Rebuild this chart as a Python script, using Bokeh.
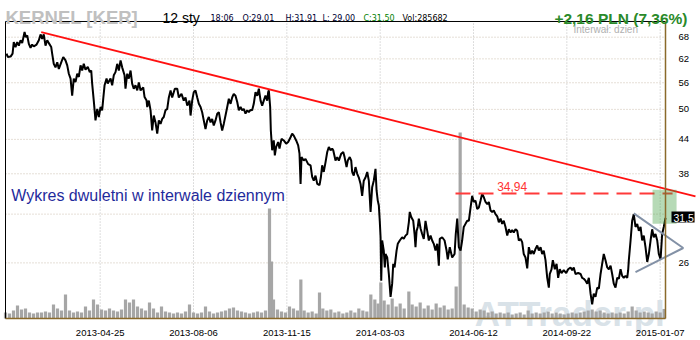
from bokeh.plotting import figure
from bokeh.models import Range1d, LinearScale, FixedTicker, Label, PrintfTickFormatter
from bokeh.embed import file_html
from bokeh.resources import INLINE
from bokeh.core.properties import value

# ---------------- data (trading-day index, prices in PLN) ----------------
day = [0.8,1.7,3.8,5.3,6.2,7.5,8.8,10.0,11.3,12.5,14.3,15.2,16.3,17.5,18.8,20.0,21.2,23.3,25.0,26.3,
       27.5,28.7,30.0,31.3,32.5,34.3,35.0,36.2,37.5,38.8,40.0,41.8,43.3,45.0,46.3,47.5,48.8,50.0,51.2,52.5,
       53.8,55.0,56.3,57.5,58.7,60.0,61.7,63.2,64.3,65.0,66.2,67.5,68.8,70.0,71.3,72.5,73.3,74.3,75.8,76.7,
       78.8,80.0,81.2,82.5,83.8,85.0,86.3,87.5,89.3,90.0,91.3,92.5,93.8,95.0,96.2,97.5,98.8,100.0,101.3,103.3,
       104.3,105.8,106.3,107.5,108.8,110.0,111.2,112.5,113.8,115.0,116.3,117.5,118.7,120.0,121.3,122.5,123.8,125.0,127.0,128.8,
       130.0,132.0,133.7,135.0,136.3,138.0,138.8,140.0,141.2,142.5,143.8,145.0,146.3,147.5,148.7,150.0,151.3,152.5,153.8,155.0,
       156.2,157.5,158.8,160.0,161.3,162.5,163.7,165.0,166.3,167.5,168.8,170.0,171.2,172.5,173.8,175.0,176.3,177.5,178.7,180.0,
       181.3,182.5,183.8,185.0,186.2,187.5,188.8,190.0,191.3,192.5,193.7,195.0,196.3,197.0,197.5,198.5,199.0,200.0,201.2,202.0,
       203.0,204.5,205.5,207.0,208.7,210.5,212.0,213.8,215.0,216.2,218.0,219.5,220.5,221.3,222.0,223.7,225.0,227.0,228.8,230.0,
       231.2,232.5,233.8,235.5,236.5,237.5,238.7,240.0,241.3,242.5,243.8,245.0,245.8,247.5,248.8,250.0,251.8,253.3,254.3,255.8,
       256.7,258.2,259.3,260.0,261.2,262.5,263.8,265.0,266.3,267.5,268.7,270.0,271.3,272.5,273.8,275.0,276.2,277.5,278.3,279.2,
       280.0,280.7,281.3,281.8,282.5,283.7,284.5,285.0,286.3,287.5,288.8,290.0,290.8,291.8,293.3,294.2,295.7,297.5,298.7,300.0,
       301.3,302.5,303.2,304.3,305.8,306.8,307.5,308.3,309.2,310.0,311.3,312.5,313.7,315.0,316.3,317.5,318.8,320.0,321.2,322.5,
       323.8,325.0,325.7,327.5,329.3,330.8,331.7,333.2,335.0,336.8,337.7,338.8,340.0,341.3,342.5,343.7,345.0,346.3,347.5,348.8,
       350.0,351.2,352.5,353.8,355.0,356.3,357.5,358.7,360.0,361.3,362.5,363.8,365.0,366.2,367.5,368.8,370.0,371.3,372.5,373.7,
       375.0,376.3,377.5,378.8,380.0,381.2,382.5,383.8,385.0,386.3,387.5,388.7,390.0,391.3,392.5,393.8,395.0,396.2,397.5,398.8,
       400.0,401.3,402.5,403.7,405.0,406.3,407.5,408.2,409.5,410.5,412.0,413.3,414.5,415.7,417.0,418.7,420.5,422.0,423.8,425.0,
       426.2,427.5,429.5,431.3,432.5,433.7,435.0,436.3,437.5,438.8,440.0,441.2,442.5,443.8,445.0,446.3,447.5,448.7,450.0,451.3,
       452.5,453.8,455.0,456.2,457.5,458.8,460.0,461.3,462.5,463.7,465.0,466.3,467.0,467.5,468.8,470.0,471.2,472.5,473.8,475.0,
       476.3,477.5,478.7,480.0,481.3,482.5,483.8,485.0,486.2,487.5,488.8,490.0,491.3,492.5,493.7,495.0]

close = [63.4,62.5,62.6,63.4,66.6,65.2,66.6,65.6,67.1,66.3,69.5,68.0,68.5,66.1,65.0,65.9,65.4,65.9,67.1,68.8,
         67.5,68.8,65.6,67.1,66.3,65.2,63.4,60.7,59.8,61.1,59.4,61.1,62.5,61.6,60.3,58.2,57.0,53.0,57.0,56.2,
         58.2,57.4,60.3,59.0,60.7,59.2,59.9,58.6,59.0,55.8,51.9,47.7,50.1,48.4,50.5,49.8,52.3,55.4,57.0,55.8,
         57.0,55.4,57.8,58.6,60.7,59.0,61.6,59.8,57.8,54.6,58.2,57.0,59.0,55.8,54.6,55.4,54.2,56.1,54.2,54.9,
         52.7,51.9,50.5,51.9,49.8,45.7,48.7,47.3,45.1,47.7,47.0,48.0,48.4,49.8,50.1,52.6,54.2,52.6,54.6,54.6,
         52.6,53.4,51.9,52.6,50.8,51.9,48.7,51.9,53.8,54.2,52.6,51.2,50.5,49.4,47.7,46.0,47.7,48.4,47.3,48.0,
         46.7,47.7,49.1,49.4,47.3,45.7,47.0,48.7,50.5,52.3,51.2,52.6,53.4,53.0,51.6,49.8,50.5,49.8,50.1,49.1,
         49.8,49.4,49.9,49.8,51.2,53.8,53.0,54.6,51.9,50.8,51.9,53.0,51.9,53.8,54.2,50.5,45.7,42.0,43.8,41.1,
         42.6,43.5,42.3,44.1,43.8,43.2,43.5,44.4,45.1,44.7,43.8,42.9,41.4,36.4,40.8,40.2,40.5,39.6,39.4,37.5,
         36.9,37.7,36.4,36.2,37.4,39.4,38.3,39.9,41.7,42.6,42.0,42.3,42.0,40.2,40.8,40.2,41.4,41.7,40.8,39.1,
         40.2,40.8,40.2,38.3,37.7,39.1,38.0,37.4,36.4,34.6,36.9,37.4,38.3,36.9,32.3,35.9,36.9,38.8,35.4,33.9,
         33.2,31.1,29.0,24.1,28.6,27.4,25.5,27.0,26.6,24.8,22.5,23.8,25.9,25.5,27.4,28.2,28.6,29.0,28.8,29.2,
         29.4,30.9,32.3,31.6,31.1,29.4,27.8,29.8,30.3,31.4,30.1,29.4,28.8,31.1,29.8,28.6,29.2,28.6,28.2,27.4,
         28.2,25.7,28.8,29.0,28.6,27.4,26.4,27.8,26.6,27.0,29.4,31.4,27.8,27.4,28.6,30.3,30.7,31.1,31.1,32.9,
         34.6,33.7,33.9,32.7,32.9,33.9,34.9,34.4,33.7,33.4,33.7,32.5,32.3,32.5,32.0,31.7,30.9,31.4,30.7,31.1,
         30.3,29.2,30.0,29.6,29.9,29.6,30.0,29.8,28.6,28.8,28.4,27.0,26.6,25.4,27.8,27.0,27.4,27.0,27.6,28.0,
         27.4,27.8,27.0,27.4,26.3,24.4,23.4,24.8,25.3,26.3,25.3,25.9,24.4,25.3,24.9,25.2,24.9,25.3,25.5,25.2,
         25.5,24.8,24.9,24.8,24.4,24.3,24.1,23.8,24.4,22.8,21.8,22.8,22.5,23.4,23.3,24.8,25.9,27.0,26.3,25.5,
         25.3,25.7,24.8,23.8,23.4,24.4,24.3,25.3,24.6,24.4,24.6,24.4,25.2,26.3,28.6,31.1,32.0,30.3,30.7,29.8,
         30.3,28.6,29.2,27.8,26.1,27.0,28.6,30.0,29.0,29.4,28.6,27.0,26.4,29.4,30.3,31.5]

vol_day = [0,3,6,9,12,15,18,21,24,27,30,33,36,39,42,45,48,51,54,57,60,63,66,69,72,75,78,81,84,87,
           90,93,96,99,102,105,108,111,114,117,120,123,126,129,132,135,138,141,144,147,150,153,156,159,162,165,168,171,174,177,
           180,183,186,189,192,195,198,199.5,201,204,207,210,213,216,219,221.5,224,227,230,233,
           235.5,238,241,244,247,250,253,256,259,262,265,268,271,274,277,279.5,281.5,284,287,290,
           293,296,299,302.5,305,308,311,314,317,320,323,326,329,332,335,338,341,344,347,350,
           353,356,359,362,365,368,371,374,377,380,383,386,389,392,395,398,401,404,407,410,
           413,416,419,422,425,428,431,434,437,440,443,446,449,452,455,458,461,464,467,470,
           473,476,479,482,485,488,491,494]
vol_k = [180,150,240,390,270,300,180,150,180,180,210,180,420,300,240,720,240,180,210,180,
         360,240,570,420,270,240,300,240,210,270,570,480,570,360,300,240,480,300,180,360,
         210,180,150,180,150,210,420,180,150,180,360,210,150,180,210,240,300,330,240,210,
         180,150,180,210,180,240,3300,1710,570,270,210,180,360,300,240,1170,240,180,210,150,
         780,300,240,270,180,210,150,180,240,180,300,240,210,720,570,450,1080,540,420,600,
         360,450,300,810,420,360,480,300,390,270,450,330,390,270,300,960,5580,420,330,300,
         210,270,240,180,210,150,180,150,180,120,150,180,120,240,150,180,150,180,210,150,
         180,150,120,150,180,150,180,210,240,270,210,240,180,150,180,150,180,150,210,360,
         240,180,210,180,150,210,180,286]

tick_days = [71, 141, 211, 281, 351, 421, 491]
tick_labels = ["2013-04-25", "2013-08-06", "2013-11-15", "2014-03-03",
               "2014-06-12", "2014-09-22", "2015-01-07"]
price_ticks = [26, 32, 38, 44, 50, 56, 62, 68]
hidden_price_ticks = [32]

trend_day = [26.8, 517.5]
trend_price = [69.5, 34.5]
resistance = 34.94
resist_day = [337.5, 500.3]
tri_day = [471.2, 508.3, 472.5]
tri_price = [32.1, 27.7, 25.0]
box_day = (485.3, 503.3)
box_price = (30.7, 35.5)
last_price = 31.5

# ---------------- layout (positions in data units) ----------------
X_START, X_END = -3.75, 521.25
Y_START, Y_END = 18.68, 79.5
LEFT_DAY, AXIS_DAY = 0.0, 495.0
AXIS_PRICE, TOP_PRICE = 20.51, 72.7
BROWN = "#8a6a2a"

p = figure(width=700, height=340, x_range=Range1d(X_START, X_END),
           y_range=Range1d(Y_START, Y_END), y_axis_type="log",
           y_axis_location="right", x_axis_location="below",
           output_backend="svg", toolbar_location=None, min_border=0)
p.min_border_left = p.min_border_right = p.min_border_top = p.min_border_bottom = 0
p.outline_line_color = None
p.background_fill_color = "white"
p.border_fill_color = "white"
p.grid.visible = False

p.extra_y_ranges = {"vol": Range1d(-660, 9540)}
p.extra_y_scales = {"vol": LinearScale()}

# grid lines
p.segment(x0=tick_days, x1=tick_days, y0=[AXIS_PRICE] * len(tick_days), y1=[TOP_PRICE] * len(tick_days),
          line_color="#bdbdbd", line_width=1, line_dash="1 2")
p.segment(x0=[LEFT_DAY] * len(price_ticks), x1=[AXIS_DAY] * len(price_ticks), y0=price_ticks, y1=price_ticks,
          line_color="#cbbfae", line_width=1, line_dash="1 2")

# watermark
p.text(x=[352], y=[21.0], text=["ATTrader.pl"], text_font=value("Liberation Sans"),
       text_font_style="bold", text_font_size="35px", text_color="#d9e2e8", text_baseline="alphabetic")

# volume
p.vbar(x=vol_day, top=vol_k, bottom=0, width=2.4, y_range_name="vol",
       fill_color="#a6a6a6", line_color=None)

# frame lines
p.segment(x0=[LEFT_DAY], x1=[AXIS_DAY], y0=[TOP_PRICE], y1=[TOP_PRICE], line_color="black", line_width=1)
p.segment(x0=[LEFT_DAY], x1=[LEFT_DAY], y0=[AXIS_PRICE], y1=[TOP_PRICE], line_color="black", line_width=1)

# price
p.line(day, close, line_color="black", line_width=2.0)

# trend line, resistance, triangle
p.line(trend_day, trend_price, line_color="#ff1010", line_width=1.8)
p.line(resist_day, [resistance, resistance], line_color="#ff3a3a", line_width=2, line_dash="15 8")
p.line(tri_day, tri_price, line_color="#8391a6", line_width=2)

# green zone
p.quad(left=[box_day[0]], right=[box_day[1]], bottom=[box_price[0]], top=[box_price[1]],
       fill_color="#3a9a3a", fill_alpha=0.37, line_color=None)

# last price box
p.quad(left=[499.5], right=[516.8], bottom=[30.88], top=[32.35], fill_color="black", line_color=None)
p.text(x=[501.0], y=[last_price], text=["31,5"], text_font=value("Liberation Sans"),
       text_font_size="10.5px", text_color="white", text_baseline="middle", text_align="left")

# axes
xa = p.xaxis[0]
xa.fixed_location = AXIS_PRICE
xa.bounds = (LEFT_DAY, AXIS_DAY)
xa.ticker = FixedTicker(ticks=tick_days)
xa.major_label_overrides = {d: s for d, s in zip(tick_days, tick_labels)}
xa.axis_line_color = BROWN
xa.axis_line_width = 1.5
xa.major_tick_line_color = None
xa.minor_tick_line_color = None
xa.major_label_standoff = 5
xa.major_label_text_font = "Liberation Sans"
xa.major_label_text_font_size = "9.5px"
xa.major_label_text_color = "black"

ya = p.yaxis[0]
ya.fixed_location = AXIS_DAY
ya.bounds = (AXIS_PRICE, TOP_PRICE)
ya.ticker = FixedTicker(ticks=price_ticks)
ya.formatter = PrintfTickFormatter(format="%d")
ya.major_label_overrides = {t: "" for t in hidden_price_ticks}
ya.axis_line_color = BROWN
ya.axis_line_width = 1.5
ya.major_tick_line_color = None
ya.minor_tick_line_color = None
ya.major_label_standoff = 7
ya.major_label_text_font = "Liberation Sans"
ya.major_label_text_font_size = "9.5px"
ya.major_label_text_color = "black"

H = 340


def lab(x, ytop, text, size, color, bold=False, font="Liberation Sans", align="left"):
    p.add_layout(Label(x=x, y=H - ytop, x_units="screen", y_units="screen", text=text,
                       text_font=font, text_font_size=size, text_color=color,
                       text_font_style="bold" if bold else "normal",
                       text_align=align, text_baseline="alphabetic"))


lab(5, 17.3, "KERNEL [KER]", "18.5px", "#c0c0c0", bold=True)
lab(162, 17.3, "12 sty", "14px", "black")
lab(210, 18.3, "18:06", "8px", "#000033", font="DejaVu Sans")
lab(242, 18.3, "O:29,01", "8px", "#000033", font="DejaVu Sans")
lab(285, 18.3, "H:31,91", "8px", "#000033", font="DejaVu Sans")
lab(322, 18.3, "L: 29,00", "8px", "#000033", font="DejaVu Sans")
lab(363, 18.3, "C:31,50", "8px", "#008000", font="DejaVu Sans")
lab(402, 18.3, "Vol:285682", "8px", "black", font="DejaVu Sans")
lab(687, 18.3, "+2,16 PLN (7,36%)", "15.5px", "#2a8a2a", bold=True, align="right")
lab(573, 28.5, "Interwał: dzien", "10px", "#b0b0b0")
lab(10.7, 195, "Wykres dwuletni w interwale dziennym", "16px", "#1f2b9c")

p.add_layout(Label(x=380, y=resistance, y_offset=7, text="34,94", text_font="Liberation Sans",
                   text_font_size="12px", text_color="#ff3333", text_align="center",
                   text_baseline="alphabetic"))

open("out.html", "w").write(file_html(p, INLINE))
